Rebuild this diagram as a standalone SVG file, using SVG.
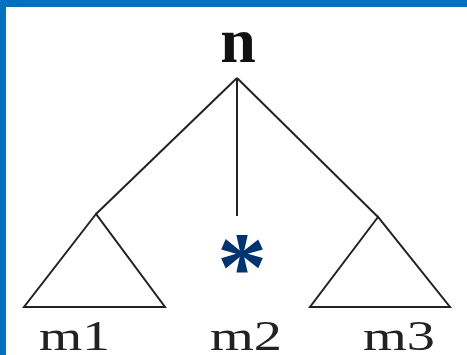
<svg xmlns="http://www.w3.org/2000/svg" width="467" height="355" viewBox="0 0 467 355">
<style>
.edge{stroke:#222;stroke-width:2;fill:none}
.tri{stroke:#222;stroke-width:2;fill:none;stroke-linejoin:miter}
.lbl{font-family:"Liberation Serif",serif;font-size:43px;fill:#222}
</style>
<rect width="467" height="355" fill="#fff"/>
<rect x="0" y="0" width="467" height="7" fill="#0070c0"/>
<rect x="0" y="0" width="6" height="355" fill="#0070c0"/>
<g id="connectors">
<line class="edge" x1="237" y1="78" x2="96" y2="214"/>
<line class="edge" x1="237" y1="78" x2="237" y2="216"/>
<line class="edge" x1="237" y1="78" x2="378" y2="217"/>
</g>
<g id="n"><text x="238" y="62" text-anchor="middle" style="font-family:'Liberation Serif',serif;font-weight:bold;font-size:64px;fill:#111">n</text></g>
<g id="m1">
<polygon class="tri" points="96,214 24,307 165,307"/>
<text class="lbl" x="39" y="350" textLength="71" lengthAdjust="spacingAndGlyphs">m1</text>
</g>
<g id="m2">
<text x="242" y="300" text-anchor="middle" style="font-family:'Liberation Serif',serif;font-weight:bold;font-size:100px;fill:#003470">*</text>
<text class="lbl" x="210" y="350" textLength="72" lengthAdjust="spacingAndGlyphs">m2</text>
</g>
<g id="m3">
<polygon class="tri" points="378,217 310,307 450,307"/>
<text class="lbl" x="363" y="350" textLength="72" lengthAdjust="spacingAndGlyphs">m3</text>
</g>
</svg>
